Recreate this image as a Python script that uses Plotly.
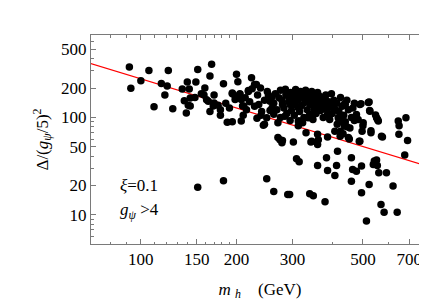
import plotly.graph_objects as go

# scatter points: m_h (GeV) and Delta/(g_psi/5)^2
m_h = [92, 93, 100, 106, 110, 116, 119, 121, 122, 126, 135, 137, 139, 140, 141, 142, 143, 149, 151, 159,
       158, 163, 165, 167, 169, 170, 175, 178, 182, 187, 194, 194, 198, 200, 202, 205, 207, 209, 213, 218,
       223, 228, 233, 235, 238, 243, 249, 252, 255, 259, 270, 272, 279, 284, 291, 295, 307, 302, 313, 313,
       323, 332, 336, 352, 358, 360, 371, 380, 387, 398, 403, 408, 418, 428, 440, 437, 450, 472, 489, 489,
       501, 520, 526, 552, 559, 572, 646, 650, 683, 649, 691,
       302, 309, 315, 294, 340, 349, 343, 360, 362, 360, 380, 384, 387, 408, 413, 416, 460, 460, 464, 477,
       487, 495, 495, 523, 513, 539, 543, 552, 555, 561, 570, 583, 593, 622, 641, 677, 576, 453, 151, 182,
       249, 262, 290, 274, 278,
       438, 493, 523, 525, 477, 483, 470, 500, 548, 556, 530, 497, 428, 420, 440, 445, 455, 425, 433, 415,
       331, 387, 424, 530, 270, 279, 345, 313,
       250, 258, 262, 265, 268, 275, 278, 282, 286, 288, 292, 296, 298, 300, 304, 306, 310, 312, 316, 318,
       320, 324, 326, 328, 330, 334, 338, 340, 342, 345, 348, 350, 354, 356, 362, 365, 368, 372, 375, 378,
       382, 385, 390, 393, 396, 400, 405, 410, 414, 420, 425, 430, 435, 445, 450, 460, 465, 470, 285, 295,
       330, 345, 360, 315, 275, 262, 255, 245, 240, 228, 232, 215, 220, 210, 190, 185, 178, 165, 155, 148,
       143, 161, 170, 194, 198, 205, 207, 211, 224, 231, 239, 245, 218]
delta = [330, 199, 238, 304, 129, 223, 170, 210, 304, 123, 196, 148, 111, 231, 133, 196, 158, 231, 311, 200,
         170, 147, 266, 351, 131, 170, 133, 105, 222, 89, 90, 175, 153, 277, 233, 175, 92, 131, 159, 189,
         256, 218, 170, 136, 200, 83, 99, 170, 147, 126, 88, 159, 136, 103, 166, 136, 194, 147, 126, 82,
         88, 147, 99, 121, 157, 67, 126, 159, 107, 175, 126, 72, 99, 92, 136, 82, 62, 99, 136, 57,
         88, 142, 116, 99, 92, 64, 92, 82, 99, 67, 58,
         56, 37.6, 35, 16.1, 16.4, 15.7, 56, 52.7, 59, 32, 13.6, 38.5, 28.4, 25.3, 32, 45, 38.5, 22.1, 29.1, 28,
         57, 31.6, 16.8, 20.4, 8.6, 32.8, 35.6, 36.4, 32, 27, 12.7, 10.6, 27, 19.7, 10.6, 41, 63, 60, 19.2, 22.4,
         23.4, 17.3, 16.1, 59, 55,
         138, 138, 144, 118, 107, 95, 93, 82, 106, 95, 73, 72, 104, 97, 90, 80, 78, 72, 68, 85,
         69.5, 63, 64, 69.5, 62, 58, 57, 92,
         185, 160, 140, 175, 120, 190, 150, 125, 170, 110, 145, 180, 118, 160, 105, 135, 170, 150, 115, 185,
         132, 160, 100, 142, 175, 120, 155, 108, 135, 168, 95, 145, 128, 110, 140, 165, 118, 150, 100, 135,
         170, 120, 145, 95, 130, 110, 150, 120, 140, 115, 160, 130, 105, 150, 120, 100, 125, 140, 195, 93,
         190, 185, 180, 92, 100, 108, 118, 150, 115, 130, 98, 120, 145, 105, 125, 140, 120, 115, 175, 160,
         131, 152, 141, 178, 166, 172, 153, 131, 197, 218, 105, 85, 185]

# fitted red line endpoints
line_m = [60, 900]
line_d = [415, 28]

x_ticks = [100, 150, 200, 300, 500, 700]
x_minor = [70, 80, 90, 110, 120, 130, 140, 160, 170, 180, 190, 400, 600, 800]
y_ticks = [10, 20, 50, 100, 200, 500]
y_minor = [6, 7, 8, 9, 30, 40, 60, 70, 80, 90, 300, 400, 600, 700]

serif = "Liberation Serif, Times New Roman, serif"
frame = "#7a7a7a"

fig = go.Figure()
fig.add_trace(go.Scatter(x=line_m, y=line_d, mode="lines",
                         line=dict(color="#ff0000", width=1.3), hoverinfo="skip"))
fig.add_trace(go.Scatter(x=m_h, y=delta, mode="markers",
                         marker=dict(color="black", size=7.5, line=dict(width=0))))

axis_common = dict(type="log", showgrid=False, zeroline=False, showline=True,
                   linecolor=frame, linewidth=1, mirror="allticks", ticks="inside",
                   tickcolor=frame, ticklen=5, tickwidth=1,
                   tickfont=dict(family=serif, size=17, color="black"))

fig.update_xaxes(**axis_common, range=[1.843, 2.907], tickmode="array", tickvals=x_ticks,
                 ticktext=[str(v) for v in x_ticks],
                 minor=dict(tickmode="array", tickvals=x_minor, ticks="inside", ticklen=2.5,
                            tickcolor=frame, showgrid=False),
                 title=dict(text="<i>m</i> <sub><i>h</i></sub>    (GeV)",
                            font=dict(family=serif, size=17, color="black"), standoff=14))
fig.update_yaxes(**axis_common, range=[0.699, 2.847], tickmode="array", tickvals=y_ticks,
                 ticktext=[str(v) for v in y_ticks],
                 minor=dict(tickmode="array", tickvals=y_minor, ticks="inside", ticklen=2.5,
                            tickcolor=frame, showgrid=False),
                 title=dict(text="Δ/(<i>g</i><sub><i>ψ</i></sub>/5)<sup>2</sup>",
                            font=dict(family=serif, size=17, color="black"), standoff=8))

fig.add_annotation(text="<i>ξ</i>=0.1", xref="paper", yref="paper", x=0.08, y=0.282,
                   xanchor="left", yanchor="middle", showarrow=False,
                   font=dict(family=serif, size=17, color="black"))
fig.add_annotation(text="<i>g</i><sub><i>ψ</i></sub> >4", xref="paper", yref="paper", x=0.08, y=0.158,
                   xanchor="left", yanchor="middle", showarrow=False,
                   font=dict(family=serif, size=17, color="black"))

fig.update_layout(width=427, height=305, margin=dict(l=83, r=6, t=27, b=69),
                  paper_bgcolor="white", plot_bgcolor="white", showlegend=False)

fig.write_html("out.html")
